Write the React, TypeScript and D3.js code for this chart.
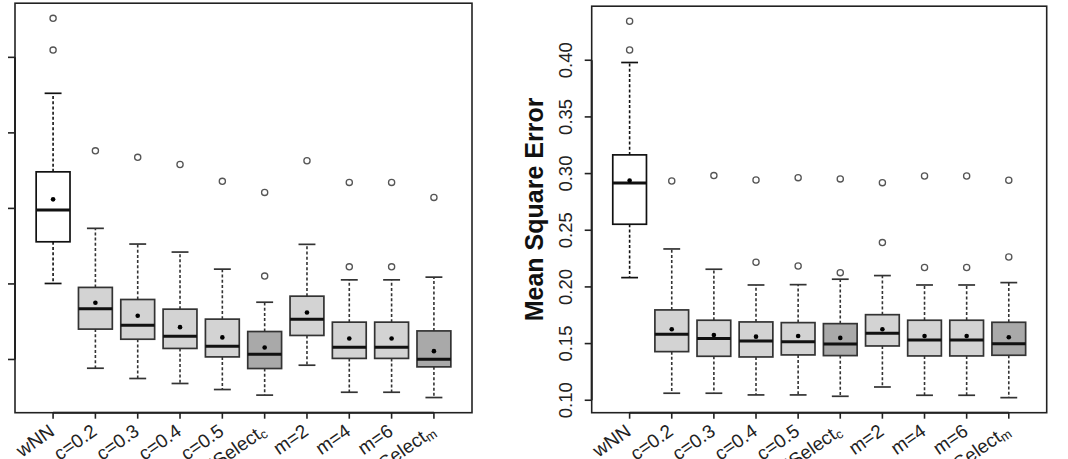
import React from 'react'
import * as d3 from 'd3'

// method labels (base text + subscript)
const labelBase = ['wNN', 'c=0.2', 'c=0.3', 'c=0.4', 'c=0.5', 'wNNSelect', 'm=2', 'm=4', 'm=6', 'wNNSelect']
const labelSub = ['', '', '', '', '', 'c', '', '', '', 'm']
const shade = ['none', 'light', 'light', 'light', 'light', 'dark', 'light', 'light', 'light', 'dark']

// left panel (y labels are outside the picture)
const leftLow = [0.1503, 0.0942, 0.0874, 0.0841, 0.0801, 0.0764, 0.0962, 0.0783, 0.0783, 0.0748]
const leftQ1 = [0.1779, 0.1201, 0.1134, 0.1073, 0.1017, 0.094, 0.1159, 0.1007, 0.1007, 0.0951]
const leftMed = [0.1989, 0.1335, 0.1227, 0.1154, 0.1088, 0.1035, 0.1267, 0.1081, 0.1081, 0.1002]
const leftQ3 = [0.2242, 0.1477, 0.1397, 0.1333, 0.1267, 0.1185, 0.1419, 0.1247, 0.1247, 0.1189]
const leftHigh = [0.2762, 0.1868, 0.1764, 0.1711, 0.1598, 0.1379, 0.1762, 0.1527, 0.1527, 0.1545]
const leftMean = [0.206, 0.1375, 0.1289, 0.1214, 0.1146, 0.1079, 0.1311, 0.1139, 0.1139, 0.1055]
const leftOut = [[0.3258, 0.3048], [0.2381], [0.2338], [0.2291], [0.2179], [0.2106, 0.1552], [0.2315], [0.2172, 0.1613], [0.2172, 0.1613], [0.2073]]
const leftTicks = [0.1, 0.15, 0.2, 0.25, 0.3]

// right panel: mean square error
const rightLow = [0.2082, 0.1062, 0.1062, 0.1047, 0.1047, 0.1035, 0.1117, 0.1044, 0.1044, 0.1023]
const rightQ1 = [0.2553, 0.1429, 0.1388, 0.1382, 0.14, 0.1394, 0.1479, 0.1391, 0.1391, 0.1397]
const rightMed = [0.2917, 0.1582, 0.1544, 0.1523, 0.1517, 0.1497, 0.1591, 0.1532, 0.1532, 0.1499]
const rightQ3 = [0.3165, 0.1797, 0.1706, 0.1691, 0.1685, 0.1676, 0.1755, 0.1706, 0.1706, 0.1688]
const rightHigh = [0.398, 0.2335, 0.2156, 0.2017, 0.202, 0.2068, 0.21, 0.2017, 0.2017, 0.2038]
const rightMean = [0.2938, 0.1626, 0.1576, 0.1561, 0.1567, 0.155, 0.1626, 0.1567, 0.1567, 0.1556]
const rightOut = [[0.4344, 0.409], [0.2935], [0.2982], [0.2944, 0.2218], [0.2964, 0.2185], [0.2953, 0.2126], [0.292, 0.2391], [0.2979, 0.2171], [0.2979, 0.2171], [0.2941, 0.2264]]
const rightTicks = [0.1, 0.15, 0.2, 0.25, 0.3, 0.35, 0.4]

const FONT = '"Liberation Sans", Arial, Helvetica, sans-serif'
const fills: Record<string, string> = { none: '#ffffff', light: '#d3d3d3', dark: '#a9a9a9' }

interface PanelProps {
  left: number
  right: number
  top: number
  bottom: number
  low: number[]
  q1: number[]
  med: number[]
  q3: number[]
  high: number[]
  mean: number[]
  out: number[][]
  ticks: number[]
  showLabels: boolean
  title?: string
}

const Panel: React.FC<PanelProps> = (p) => {
  const n = labelBase.length
  // R style: 4% padding on both axes
  const x = d3.scaleLinear().domain([0.5 - 0.4, n + 0.5 + 0.4]).range([p.left, p.right])
  const all = [...p.low, ...p.high, ...p.out.flat()]
  const [lo, hi] = d3.extent(all) as [number, number]
  const pad = (hi - lo) * 0.04
  const y = d3.scaleLinear().domain([lo - pad, hi + pad]).range([p.bottom, p.top])
  const bw = (x(1) - x(0)) * 0.8
  const cap = bw / 2
  const fmt = d3.format('.2f')

  return (
    <g>
      {/* boxes */}
      {labelBase.map((_, i) => {
        const cx = x(i + 1)
        const edge = shade[i] === 'none' ? '#111' : '#333'
        return (
          <g key={i}>
            <line x1={cx} x2={cx} y1={y(p.q3[i])} y2={y(p.high[i])} stroke={edge} strokeWidth={1.6} strokeDasharray="3,2.2" />
            <line x1={cx} x2={cx} y1={y(p.q1[i])} y2={y(p.low[i])} stroke={edge} strokeWidth={1.6} strokeDasharray="3,2.2" />
            <line x1={cx - cap / 2} x2={cx + cap / 2} y1={y(p.high[i])} y2={y(p.high[i])} stroke={edge} strokeWidth={1.7} />
            <line x1={cx - cap / 2} x2={cx + cap / 2} y1={y(p.low[i])} y2={y(p.low[i])} stroke={edge} strokeWidth={1.7} />
            <rect x={cx - bw / 2} y={y(p.q3[i])} width={bw} height={y(p.q1[i]) - y(p.q3[i])} fill={fills[shade[i]]} stroke={edge} strokeWidth={1.7} />
            <line x1={cx - bw / 2} x2={cx + bw / 2} y1={y(p.med[i])} y2={y(p.med[i])} stroke="#111" strokeWidth={3} />
            <circle cx={cx} cy={y(p.mean[i])} r={2.3} fill="#000" />
            {p.out[i].map((v, j) => (
              <circle key={j} cx={cx} cy={y(v)} r={3.1} fill="none" stroke="#555" strokeWidth={1.3} />
            ))}
          </g>
        )
      })}

      {/* frame */}
      <rect x={p.left} y={p.top} width={p.right - p.left} height={p.bottom - p.top} fill="none" stroke="#222" strokeWidth={1.6} />

      {/* x axis */}
      <line x1={x(1)} x2={x(n)} y1={p.bottom} y2={p.bottom} stroke="#222" strokeWidth={2} />
      {labelBase.map((lab, i) => (
        <g key={i}>
          <line x1={x(i + 1)} x2={x(i + 1)} y1={p.bottom} y2={p.bottom + 6} stroke="#222" strokeWidth={1.6} />
          <text
            transform={`translate(${x(i + 1) - 1},${p.bottom + 16}) rotate(-35)`}
            textAnchor="end"
            dominantBaseline="central"
            fontFamily={FONT}
            fontSize={19}
            fill="#222"
          >
            {lab}
            {labelSub[i] && (
              <tspan fontSize={13} dy={4}>{labelSub[i]}</tspan>
            )}
          </text>
        </g>
      ))}

      {/* y axis */}
      <line x1={p.left} x2={p.left} y1={y(p.ticks[0])} y2={y(p.ticks[p.ticks.length - 1])} stroke="#222" strokeWidth={2} />
      {p.ticks.map((t) => (
        <g key={t}>
          <line x1={p.left - 7} x2={p.left} y1={y(t)} y2={y(t)} stroke="#222" strokeWidth={1.6} />
          {p.showLabels && (
            <text
              transform={`translate(${p.left - 20},${y(t)}) rotate(-90)`}
              textAnchor="middle"
              fontFamily={FONT}
              fontSize={18.5}
              fill="#222"
            >
              {fmt(t)}
            </text>
          )}
        </g>
      ))}
      {p.title && (
        <text
          transform={`translate(${p.left - 49},${(p.top + p.bottom) / 2}) rotate(-90)`}
          textAnchor="middle"
          fontFamily={FONT}
          fontSize={25}
          fontWeight="bold"
          fill="#111"
        >
          {p.title}
        </text>
      )}
    </g>
  )
}

export default function App() {
  return (
    <div style={{ position: 'absolute', left: 0, top: 0 }}>
      <svg width={1068} height={459} style={{ display: 'block', background: '#fff' }}>
        <Panel
          left={15} right={472} top={3.2} bottom={412.7}
          low={leftLow} q1={leftQ1} med={leftMed} q3={leftQ3} high={leftHigh}
          mean={leftMean} out={leftOut} ticks={leftTicks} showLabels={false}
        />
        <Panel
          left={591.7} right={1046.7} top={6.2} bottom={412.7}
          low={rightLow} q1={rightQ1} med={rightMed} q3={rightQ3} high={rightHigh}
          mean={rightMean} out={rightOut} ticks={rightTicks} showLabels={true}
          title="Mean Square Error"
        />
      </svg>
    </div>
  )
}
